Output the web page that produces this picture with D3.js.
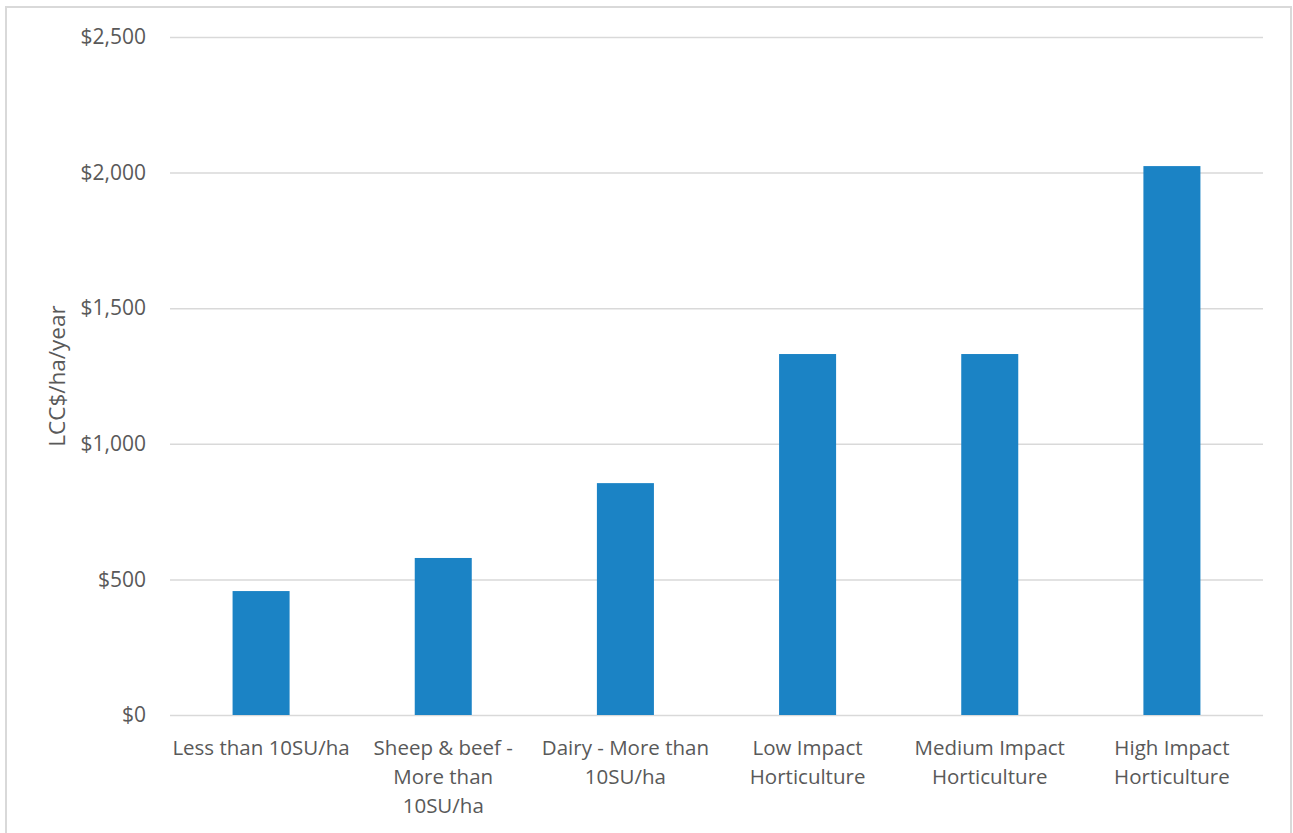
<!DOCTYPE html>
<html>
<head>
<meta charset="utf-8">
<script src="https://cdn.jsdelivr.net/npm/d3@7"></script>
<style>
  html, body { margin: 0; padding: 0; background: #fff; }
  svg { display: block; }
  text { font-family: "Open Sans", "Noto Sans", sans-serif; fill: #595959; }
</style>
</head>
<body>
<svg id="chart" width="1293" height="833"></svg>
<script>
const categories = [
  ["Less than 10SU/ha"],
  ["Sheep & beef -", "More than", "10SU/ha"],
  ["Dairy - More than", "10SU/ha"],
  ["Low Impact", "Horticulture"],
  ["Medium Impact", "Horticulture"],
  ["High Impact", "Horticulture"]
];
const values = [457, 579, 855, 1331, 1331, 2024];
const yTicks = [0, 500, 1000, 1500, 2000, 2500];
const yTitle = "LCC$/ha/year";

const svg = d3.select("#chart");
const W = 1293, H = 833;
const m = { left: 170, right: 30, top: 37, bottom: 118 };

// chart border
svg.append("rect")
  .attr("x", 6).attr("y", 7)
  .attr("width", 1285).attr("height", 840)
  .attr("fill", "none").attr("stroke", "#d9d9d9").attr("stroke-width", 2);

const keys = categories.map((c, i) => i);
const x = d3.scaleBand().domain(keys).range([m.left, W - m.right]).paddingInner(0.687).paddingOuter(0.3435);
const y = d3.scaleLinear().domain([0, 2500]).range([H - m.bottom, m.top]);

// gridlines
svg.append("g")
  .attr("transform", `translate(${m.left},0)`)
  .call(d3.axisLeft(y).tickValues(yTicks).tickSize(-(W - m.right - m.left)).tickFormat(""))
  .call(g => g.select(".domain").remove())
  .call(g => g.selectAll("line").attr("stroke", "#d9d9d9").attr("stroke-width", 1.5));

// y labels
svg.append("g")
  .attr("transform", `translate(${m.left},0)`)
  .call(d3.axisLeft(y).tickValues(yTicks).tickSize(0).tickPadding(24)
    .tickFormat(d => "$" + d3.format(",")(d)))
  .call(g => g.select(".domain").remove())
  .call(g => g.selectAll("text").attr("font-size", 21).attr("fill", "#595959")
    .style("font-family", "'Open Sans', sans-serif"));

// bars
svg.append("g").selectAll("rect").data(values).join("rect")
  .attr("x", (d, i) => x(i))
  .attr("width", x.bandwidth())
  .attr("y", d => y(d))
  .attr("height", d => y(0) - y(d))
  .attr("fill", "#1b83c5");

// x labels
const xl = svg.append("g").selectAll("text").data(categories).join("text")
  .attr("text-anchor", "middle")
  .attr("font-size", 20.5)
  .attr("x", (d, i) => x(i) + x.bandwidth() / 2)
  .attr("y", 755);
xl.selectAll("tspan").data(d => d).join("tspan")
  .attr("x", function() { return d3.select(this.parentNode).attr("x"); })
  .attr("dy", (d, i) => i === 0 ? 0 : 29)
  .text(d => d);

// y title
svg.append("text")
  .attr("transform", `translate(65,${(y(0) + y(2500)) / 2}) rotate(-90)`)
  .attr("text-anchor", "middle")
  .attr("font-size", 22.5)
  .text(yTitle);
</script>
</body>
</html>
